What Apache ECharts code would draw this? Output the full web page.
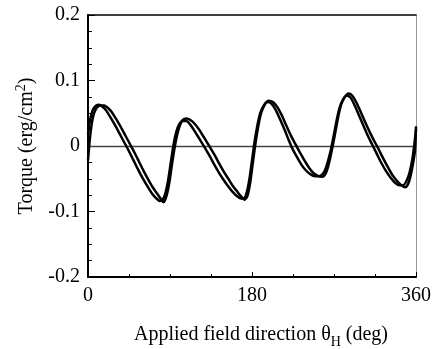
<!DOCTYPE html>
<html>
<head>
<meta charset="UTF-8" />
<title>Torque curve</title>
<script src="https://cdn.jsdelivr.net/npm/echarts@6.0.0/dist/echarts.min.js"></script>
<style>
  html, body { margin: 0; padding: 0; background: #fff; }
  #main { width: 433px; height: 349px; }
</style>
</head>
<body>
<div id="main"></div>
<script>
// curve A: leading branch (crosses zero first on the falling slopes)
const angleA = [0, 2, 4, 6, 9, 12, 16, 20, 25, 30, 35, 40, 42, 45, 50, 55, 60, 65, 70, 75, 79, 82, 85, 88, 91, 94, 97, 100, 104, 108, 112, 116, 120, 124, 128, 133, 138, 143, 148, 153, 158, 163, 168, 171, 174, 177, 180, 183, 186, 189, 193, 197, 201, 206, 211, 216, 220, 224, 229, 234, 239, 244, 249, 254, 258, 261, 264, 267, 270, 273, 276, 280, 284, 288, 292, 297, 302, 307, 312, 317, 322, 327, 332, 337, 342, 346, 350, 353, 356, 358, 360];
const torqueA = [0.018, 0.038, 0.050, 0.057, 0.062, 0.063, 0.060, 0.054, 0.043, 0.031, 0.018, 0.005, 0, -0.008, -0.022, -0.036, -0.049, -0.061, -0.072, -0.080, -0.084, -0.082, -0.072, -0.052, -0.024, 0.003, 0.022, 0.033, 0.038, 0.038, 0.033, 0.025, 0.016, 0.007, -0.002, -0.014, -0.027, -0.039, -0.050, -0.060, -0.069, -0.076, -0.080, -0.080, -0.072, -0.052, -0.022, 0.008, 0.032, 0.050, 0.062, 0.067, 0.065, 0.055, 0.040, 0.024, 0.010, -0.003, -0.016, -0.028, -0.037, -0.043, -0.046, -0.046, -0.042, -0.034, -0.020, -0.003, 0.018, 0.040, 0.058, 0.071, 0.077, 0.074, 0.064, 0.048, 0.032, 0.016, 0.002, -0.012, -0.026, -0.038, -0.048, -0.056, -0.060, -0.060, -0.052, -0.040, -0.020, 0.000, 0.025];

// curve B: lagging branch
const angleB = [0, 2, 4, 6, 9, 13, 18, 22, 26, 31, 36, 41, 46, 51, 56, 61, 66, 71, 76, 80, 83, 86, 89, 92, 95, 98, 101, 104, 108, 112, 117, 122, 126, 130, 134, 139, 144, 149, 154, 159, 164, 168, 172, 175, 178, 181, 184, 187, 190, 194, 198, 203, 208, 213, 218, 223, 228, 233, 238, 243, 248, 253, 257, 260, 263, 266, 269, 272, 275, 278, 282, 286, 290, 294, 299, 304, 309, 314, 319, 324, 329, 334, 339, 344, 348, 351, 354, 357, 359, 360];
const torqueB = [-0.022, 0.010, 0.033, 0.047, 0.057, 0.062, 0.062, 0.058, 0.052, 0.041, 0.029, 0.016, 0.003, -0.010, -0.024, -0.038, -0.051, -0.063, -0.073, -0.081, -0.086, -0.077, -0.058, -0.030, -0.003, 0.018, 0.032, 0.040, 0.042, 0.040, 0.034, 0.025, 0.016, 0.007, -0.002, -0.014, -0.027, -0.039, -0.050, -0.061, -0.070, -0.077, -0.082, -0.076, -0.056, -0.025, 0.006, 0.031, 0.050, 0.063, 0.069, 0.067, 0.059, 0.046, 0.030, 0.015, 0.002, -0.011, -0.023, -0.034, -0.042, -0.046, -0.047, -0.044, -0.034, -0.017, 0.003, 0.025, 0.047, 0.064, 0.075, 0.080, 0.077, 0.068, 0.053, 0.037, 0.022, 0.008, -0.005, -0.019, -0.032, -0.044, -0.053, -0.060, -0.063, -0.059, -0.046, -0.025, -0.005, 0.030];

const xTicks = [0, 180, 360];
const yTicks = [-0.2, -0.1, 0, 0.1, 0.2];

const chart = echarts.init(document.getElementById('main'));
const font = 'Liberation Serif, Times New Roman, serif';

function curve(angles, values) {
  return {
    type: 'line',
    data: angles.map((a, i) => [a, values[i]]),
    showSymbol: false,
    smooth: 0.25,
    lineStyle: { color: '#000', width: 2.5 },
    silent: true,
    z: 5
  };
}

chart.setOption({
  animation: false,
  backgroundColor: '#fff',
  grid: { left: 88, right: 17, top: 15, bottom: 72, outerBoundsMode: 'none', containLabel: false },
  xAxis: [{
    type: 'value',
    min: xTicks[0],
    max: xTicks[xTicks.length - 1],
    interval: 180,
    name: 'Applied field direction θ{sub|H} (deg)',
    nameLocation: 'middle',
    nameGap: 44,
    nameTextStyle: {
      fontFamily: font, fontSize: 20, color: '#000', padding: [0, 0, 0, 18],
      rich: { sub: { fontFamily: font, fontSize: 14, color: '#000', padding: [14, 0, 0, 0] } }
    },
    axisLine: { onZero: false, lineStyle: { color: '#000', width: 2 } },
    axisTick: { inside: true, length: 5, lineStyle: { color: '#000' } },
    minorTick: { show: true, splitNumber: 4, length: 3, lineStyle: { color: '#000' } },
    axisLabel: { fontFamily: font, fontSize: 20, color: '#000', margin: 9 },
    splitLine: { show: false }
  }, {
    type: 'value', position: 'top', min: 0, max: 360,
    axisLine: { show: true, onZero: false, lineStyle: { color: '#000', width: 1.5 } },
    axisTick: { show: false }, axisLabel: { show: false }, splitLine: { show: false }
  }],
  yAxis: [{
    type: 'value',
    min: yTicks[0],
    max: yTicks[yTicks.length - 1],
    interval: 0.1,
    name: 'Torque (erg/cm{sup|2})',
    nameLocation: 'middle',
    nameGap: 48,
    nameTextStyle: {
      fontFamily: font, fontSize: 20, color: '#000',
      rich: { sup: { fontFamily: font, fontSize: 14, color: '#000', padding: [0, 0, 12, 0] } }
    },
    axisLine: { onZero: false, lineStyle: { color: '#000', width: 2 } },
    axisTick: { inside: true, length: 7, lineStyle: { color: '#000' } },
    minorTick: { show: true, splitNumber: 4, length: 4, lineStyle: { color: '#000' } },
    axisLabel: {
      fontFamily: font, fontSize: 20, color: '#000', margin: 8,
      formatter: v => (Math.abs(v) < 1e-9 ? '0' : String(+v.toFixed(1)))
    },
    splitLine: { show: false }
  }, {
    type: 'value', position: 'right', min: -0.2, max: 0.2,
    axisLine: { show: true, onZero: false, lineStyle: { color: '#999', width: 1 } },
    axisTick: { show: false }, axisLabel: { show: false }, splitLine: { show: false }
  }],
  series: [
    {
      type: 'line',
      data: [],
      markLine: {
        silent: true,
        symbol: 'none',
        label: { show: false },
        lineStyle: { color: '#444', width: 1.3, type: 'solid' },
        data: [{ yAxis: 0 }]
      }
    },
    curve(angleA, torqueA),
    curve(angleB, torqueB)
  ]
});
</script>
</body>
</html>
